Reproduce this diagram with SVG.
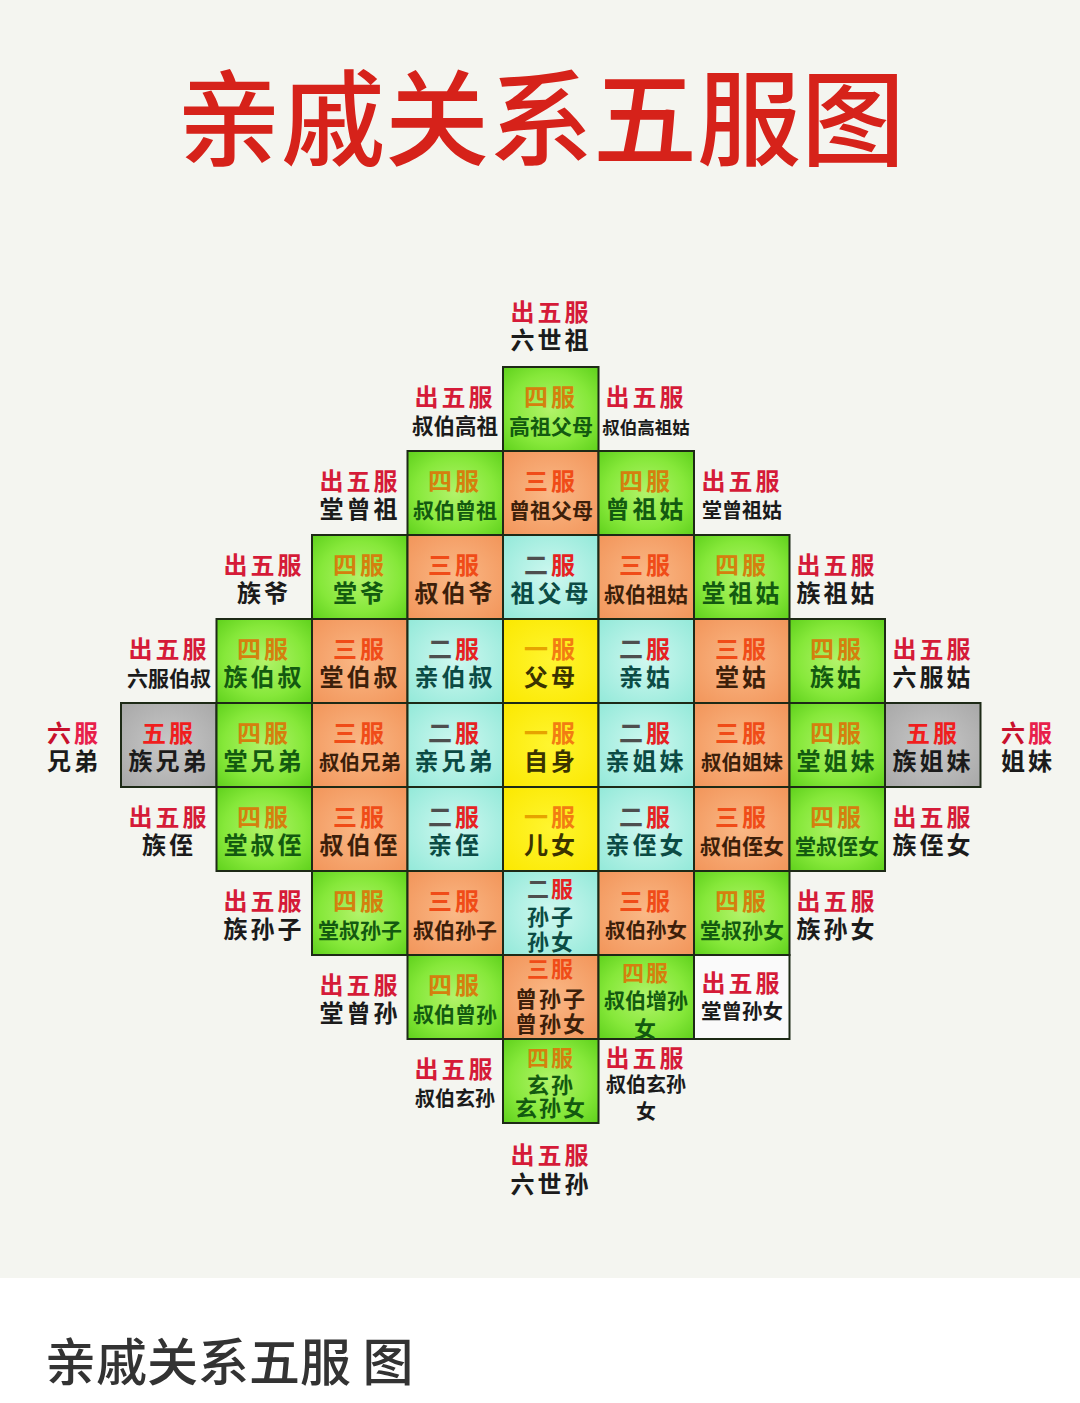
<svg xmlns="http://www.w3.org/2000/svg" width="1080" height="1403" viewBox="0 0 1080 1403">
<defs>
<radialGradient id="gG" cx="50%" cy="50%" r="70%"><stop offset="0" stop-color="#b2f36a"/><stop offset="0.6" stop-color="#86e83a"/><stop offset="1" stop-color="#5fd11c"/></radialGradient>
<radialGradient id="gO" cx="50%" cy="50%" r="70%"><stop offset="0" stop-color="#fab886"/><stop offset="1" stop-color="#f2955a"/></radialGradient>
<radialGradient id="gC" cx="50%" cy="50%" r="70%"><stop offset="0" stop-color="#cff8f0"/><stop offset="1" stop-color="#93e9d9"/></radialGradient>
<radialGradient id="gY" cx="50%" cy="50%" r="70%"><stop offset="0" stop-color="#fff530"/><stop offset="1" stop-color="#fbe800"/></radialGradient>
<radialGradient id="gK" cx="50%" cy="50%" r="70%"><stop offset="0" stop-color="#c8c8c8"/><stop offset="1" stop-color="#a8a8a8"/></radialGradient>
</defs>
<style>
.c{stroke:#1d2a16;stroke-width:2}
.cg{fill:url(#gG)}.co{fill:url(#gO)}.cc{fill:url(#gC)}.cy{fill:url(#gY)}.ck{fill:url(#gK)}.cw{fill:#fafafa}
.t{font-family:"Liberation Sans","Noto Sans CJK SC","Noto Sans CJK JP",sans-serif;font-weight:700;text-anchor:middle;font-size:24px;letter-spacing:3px}
.f4{font-size:21px;letter-spacing:0}
.f3{font-size:22px;letter-spacing:2px}
.s20{font-size:20px;letter-spacing:0}
.s205{font-size:20.5px;letter-spacing:0}
.k5{fill:#d51b38}.k4{fill:#d4800e}.k3{fill:#f04c18}.k2{fill:#4e4e4e}.kr{fill:#e62222}
.k1a{fill:#e6a300}.k1b{fill:#f27d12}.k5g{fill:#f01e1e}.k6a{fill:#c8102c}.k6b{fill:#e8204a}
.nb{fill:#1b1b1b}.ng{fill:#135a10}.no{fill:#3d1f0a}.nc{fill:#0b4b44}.ny{fill:#3a3300}
.title{font-family:"Noto Sans CJK SC","Noto Sans CJK JP",sans-serif;font-weight:500;font-size:104px;fill:#d6221a;text-anchor:middle}
.cap{font-family:"Noto Sans CJK SC","Noto Sans CJK JP",sans-serif;font-weight:500;font-size:51px;fill:#333333}
</style>
<rect x="0" y="0" width="1080" height="1403" fill="#ffffff"/>
<rect x="0" y="0" width="1080" height="1278" fill="#f4f5f0"/>
<g id="title"><text class="title" x="541" y="158">亲戚关系五服图</text></g>

<g id="nodes">
<!-- row -5 -->
<g id="n-liushizu"><text class="t"><tspan class="k5" x="551" y="321">出五服</tspan><tspan class="nb" x="551" y="349">六世祖</tspan></text></g>

<!-- row -4 -->
<g id="n-shubaigaozu"><text class="t"><tspan class="k5" x="455" y="406">出五服</tspan><tspan class="f4 nb" x="455" y="434" style="font-size:21.5px">叔伯高祖</tspan></text></g>
<g id="n-gaozufumu"><rect class="c cg" x="503" y="367" width="95.5" height="84"/><text class="t"><tspan class="k4" x="551" y="406">四服</tspan><tspan class="f4 ng" x="551" y="434">高祖父母</tspan></text></g>
<g id="n-shubaigaozugu"><text class="t"><tspan class="k5" x="646" y="406">出五服</tspan><tspan class="nb" x="646" y="434" style="font-size:17.5px;letter-spacing:0">叔伯高祖姑</tspan></text></g>

<!-- row -3 -->
<g id="n-tangcengzu"><text class="t"><tspan class="k5" x="360" y="490">出五服</tspan><tspan class="nb" x="360" y="518">堂曾祖</tspan></text></g>
<g id="n-shubaicengzu"><rect class="c cg" x="407.5" y="451" width="95.5" height="84"/><text class="t"><tspan class="k4" x="455" y="490">四服</tspan><tspan class="f4 ng" x="455" y="518">叔伯曾祖</tspan></text></g>
<g id="n-cengzufumu"><rect class="c co" x="503" y="451" width="95.5" height="84"/><text class="t"><tspan class="k3" x="551" y="490">三服</tspan><tspan class="f4 no" x="551" y="518">曾祖父母</tspan></text></g>
<g id="n-cengzugu"><rect class="c cg" x="598.5" y="451" width="95.5" height="84"/><text class="t"><tspan class="k4" x="646" y="490">四服</tspan><tspan class="ng" x="646" y="518">曾祖姑</tspan></text></g>
<g id="n-tangcengzugu"><text class="t"><tspan class="k5" x="742" y="490">出五服</tspan><tspan class="s20 nb" x="742" y="518">堂曾祖姑</tspan></text></g>

<!-- row -2 -->
<g id="n-zuye"><text class="t"><tspan class="k5" x="264" y="574">出五服</tspan><tspan class="nb" x="264" y="602">族爷</tspan></text></g>
<g id="n-tangye"><rect class="c cg" x="312" y="535" width="95.5" height="84"/><text class="t"><tspan class="k4" x="360" y="574">四服</tspan><tspan class="ng" x="360" y="602">堂爷</tspan></text></g>
<g id="n-shubaiye"><rect class="c co" x="407.5" y="535" width="95.5" height="84"/><text class="t"><tspan class="k3" x="455" y="574">三服</tspan><tspan class="no" x="455" y="602">叔伯爷</tspan></text></g>
<g id="n-zufumu"><rect class="c cc" x="503" y="535" width="95.5" height="84"/><text class="t"><tspan x="551" y="574"><tspan class="k2">二</tspan><tspan class="kr">服</tspan></tspan><tspan class="nc" x="551" y="602">祖父母</tspan></text></g>
<g id="n-shubaizugu"><rect class="c co" x="598.5" y="535" width="95.5" height="84"/><text class="t"><tspan class="k3" x="646" y="574">三服</tspan><tspan class="f4 no" x="646" y="602">叔伯祖姑</tspan></text></g>
<g id="n-tangzugu"><rect class="c cg" x="694" y="535" width="95.5" height="84"/><text class="t"><tspan class="k4" x="742" y="574">四服</tspan><tspan class="ng" x="742" y="602">堂祖姑</tspan></text></g>
<g id="n-zuzugu"><text class="t"><tspan class="k5" x="837" y="574">出五服</tspan><tspan class="nb" x="837" y="602">族祖姑</tspan></text></g>

<!-- row -1 -->
<g id="n-liufubaishu"><text class="t"><tspan class="k5" x="169" y="658">出五服</tspan><tspan class="f4 nb" x="169" y="686">六服伯叔</tspan></text></g>
<g id="n-zubaishu"><rect class="c cg" x="216.5" y="619" width="95.5" height="84"/><text class="t"><tspan class="k4" x="264" y="658">四服</tspan><tspan class="ng" x="264" y="686">族伯叔</tspan></text></g>
<g id="n-tangbaishu"><rect class="c co" x="312" y="619" width="95.5" height="84"/><text class="t"><tspan class="k3" x="360" y="658">三服</tspan><tspan class="no" x="360" y="686">堂伯叔</tspan></text></g>
<g id="n-qinbaishu"><rect class="c cc" x="407.5" y="619" width="95.5" height="84"/><text class="t"><tspan x="455" y="658"><tspan class="k2">二</tspan><tspan class="kr">服</tspan></tspan><tspan class="nc" x="455" y="686">亲伯叔</tspan></text></g>
<g id="n-fumu"><rect class="c cy" x="503" y="619" width="95.5" height="84"/><text class="t"><tspan x="551" y="658"><tspan class="k1a">一</tspan><tspan class="k1b">服</tspan></tspan><tspan class="ny" x="551" y="686">父母</tspan></text></g>
<g id="n-qingu"><rect class="c cc" x="598.5" y="619" width="95.5" height="84"/><text class="t"><tspan x="646" y="658"><tspan class="k2">二</tspan><tspan class="kr">服</tspan></tspan><tspan class="nc" x="646" y="686">亲姑</tspan></text></g>
<g id="n-tanggu"><rect class="c co" x="694" y="619" width="95.5" height="84"/><text class="t"><tspan class="k3" x="742" y="658">三服</tspan><tspan class="no" x="742" y="686">堂姑</tspan></text></g>
<g id="n-zugu"><rect class="c cg" x="789.5" y="619" width="95.5" height="84"/><text class="t"><tspan class="k4" x="837" y="658">四服</tspan><tspan class="ng" x="837" y="686">族姑</tspan></text></g>
<g id="n-liufugu"><text class="t"><tspan class="k5" x="933" y="658">出五服</tspan><tspan class="nb" x="933" y="686">六服姑</tspan></text></g>

<!-- row 0 -->
<g id="n-xiongdi"><text class="t"><tspan x="74" y="742"><tspan class="k6a">六</tspan><tspan class="k6b">服</tspan></tspan><tspan class="nb" x="74" y="770">兄弟</tspan></text></g>
<g id="n-zuxiongdi"><rect class="c ck" x="121" y="703" width="95.5" height="84"/><text class="t"><tspan class="k5g" x="169" y="742">五服</tspan><tspan class="nb" x="169" y="770">族兄弟</tspan></text></g>
<g id="n-tangxiongdi"><rect class="c cg" x="216.5" y="703" width="95.5" height="84"/><text class="t"><tspan class="k4" x="264" y="742">四服</tspan><tspan class="ng" x="264" y="770">堂兄弟</tspan></text></g>
<g id="n-shubaixiongdi"><rect class="c co" x="312" y="703" width="95.5" height="84"/><text class="t"><tspan class="k3" x="360" y="742">三服</tspan><tspan class="s205 no" x="360" y="770">叔伯兄弟</tspan></text></g>
<g id="n-qinxiongdi"><rect class="c cc" x="407.5" y="703" width="95.5" height="84"/><text class="t"><tspan x="455" y="742"><tspan class="k2">二</tspan><tspan class="kr">服</tspan></tspan><tspan class="nc" x="455" y="770">亲兄弟</tspan></text></g>
<g id="n-zishen"><rect class="c cy" x="503" y="703" width="95.5" height="84"/><text class="t"><tspan x="551" y="742"><tspan class="k1a">一</tspan><tspan class="k1b">服</tspan></tspan><tspan class="ny" x="551" y="770">自身</tspan></text></g>
<g id="n-qinjiemei"><rect class="c cc" x="598.5" y="703" width="95.5" height="84"/><text class="t"><tspan x="646" y="742"><tspan class="k2">二</tspan><tspan class="kr">服</tspan></tspan><tspan class="nc" x="646" y="770">亲姐妹</tspan></text></g>
<g id="n-shubaijiemei"><rect class="c co" x="694" y="703" width="95.5" height="84"/><text class="t"><tspan class="k3" x="742" y="742">三服</tspan><tspan class="s205 no" x="742" y="770">叔伯姐妹</tspan></text></g>
<g id="n-tangjiemei"><rect class="c cg" x="789.5" y="703" width="95.5" height="84"/><text class="t"><tspan class="k4" x="837" y="742">四服</tspan><tspan class="ng" x="837" y="770">堂姐妹</tspan></text></g>
<g id="n-zujiemei"><rect class="c ck" x="885" y="703" width="95.5" height="84"/><text class="t"><tspan class="k5g" x="933" y="742">五服</tspan><tspan class="nb" x="933" y="770">族姐妹</tspan></text></g>
<g id="n-jiemei"><text class="t"><tspan x="1028" y="742"><tspan class="k6a">六</tspan><tspan class="k6b">服</tspan></tspan><tspan class="nb" x="1028" y="770">姐妹</tspan></text></g>

<!-- row 1 -->
<g id="n-zuzhi"><text class="t"><tspan class="k5" x="169" y="826">出五服</tspan><tspan class="nb" x="169" y="854">族侄</tspan></text></g>
<g id="n-tangshuzhi"><rect class="c cg" x="216.5" y="787" width="95.5" height="84"/><text class="t"><tspan class="k4" x="264" y="826">四服</tspan><tspan class="ng" x="264" y="854">堂叔侄</tspan></text></g>
<g id="n-shubaizhi"><rect class="c co" x="312" y="787" width="95.5" height="84"/><text class="t"><tspan class="k3" x="360" y="826">三服</tspan><tspan class="no" x="360" y="854">叔伯侄</tspan></text></g>
<g id="n-qinzhi"><rect class="c cc" x="407.5" y="787" width="95.5" height="84"/><text class="t"><tspan x="455" y="826"><tspan class="k2">二</tspan><tspan class="kr">服</tspan></tspan><tspan class="nc" x="455" y="854">亲侄</tspan></text></g>
<g id="n-ernv"><rect class="c cy" x="503" y="787" width="95.5" height="84"/><text class="t"><tspan x="551" y="826"><tspan class="k1a">一</tspan><tspan class="k1b">服</tspan></tspan><tspan class="ny" x="551" y="854">儿女</tspan></text></g>
<g id="n-qinzhinv"><rect class="c cc" x="598.5" y="787" width="95.5" height="84"/><text class="t"><tspan x="646" y="826"><tspan class="k2">二</tspan><tspan class="kr">服</tspan></tspan><tspan class="nc" x="646" y="854">亲侄女</tspan></text></g>
<g id="n-shubaizhinv"><rect class="c co" x="694" y="787" width="95.5" height="84"/><text class="t"><tspan class="k3" x="742" y="826">三服</tspan><tspan class="f4 no" x="742" y="854">叔伯侄女</tspan></text></g>
<g id="n-tangshuzhinv"><rect class="c cg" x="789.5" y="787" width="95.5" height="84"/><text class="t"><tspan class="k4" x="837" y="826">四服</tspan><tspan class="f4 ng" x="837" y="854">堂叔侄女</tspan></text></g>
<g id="n-zuzhinv"><text class="t"><tspan class="k5" x="933" y="826">出五服</tspan><tspan class="nb" x="933" y="854">族侄女</tspan></text></g>

<!-- row 2 -->
<g id="n-zusunzi"><text class="t"><tspan class="k5" x="264" y="910">出五服</tspan><tspan class="nb" x="264" y="938">族孙子</tspan></text></g>
<g id="n-tangshusunzi"><rect class="c cg" x="312" y="871" width="95.5" height="84"/><text class="t"><tspan class="k4" x="360" y="910">四服</tspan><tspan class="f4 ng" x="360" y="938">堂叔孙子</tspan></text></g>
<g id="n-shubaisunzi"><rect class="c co" x="407.5" y="871" width="95.5" height="84"/><text class="t"><tspan class="k3" x="455" y="910">三服</tspan><tspan class="f4 no" x="455" y="938">叔伯孙子</tspan></text></g>
<g id="n-sunzisunnv"><rect class="c cc" x="503" y="871" width="95.5" height="84"/><text class="t f3"><tspan x="551" y="897"><tspan class="k2">二</tspan><tspan class="kr">服</tspan></tspan><tspan class="nc" x="551" y="925">孙子</tspan><tspan class="nc" x="551" y="950">孙女</tspan></text></g>
<g id="n-shubaisunnv"><rect class="c co" x="598.5" y="871" width="95.5" height="84"/><text class="t"><tspan class="k3" x="646" y="910">三服</tspan><tspan class="s205 no" x="646" y="938">叔伯孙女</tspan></text></g>
<g id="n-tangshusunnv"><rect class="c cg" x="694" y="871" width="95.5" height="84"/><text class="t"><tspan class="k4" x="742" y="910">四服</tspan><tspan class="f4 ng" x="742" y="938">堂叔孙女</tspan></text></g>
<g id="n-zusunnv"><text class="t"><tspan class="k5" x="837" y="910">出五服</tspan><tspan class="nb" x="837" y="938">族孙女</tspan></text></g>

<!-- row 3 -->
<g id="n-tangcengsun"><text class="t"><tspan class="k5" x="360" y="994">出五服</tspan><tspan class="nb" x="360" y="1022">堂曾孙</tspan></text></g>
<g id="n-shubaicengsun"><rect class="c cg" x="407.5" y="955" width="95.5" height="84"/><text class="t"><tspan class="k4" x="455" y="994">四服</tspan><tspan class="f4 ng" x="455" y="1022">叔伯曾孙</tspan></text></g>
<g id="n-cengsun"><rect class="c co" x="503" y="955" width="95.5" height="84"/><text class="t f3"><tspan class="k3" x="551" y="977">三服</tspan><tspan class="no" x="551" y="1007">曾孙子</tspan><tspan class="no" x="551" y="1032">曾孙女</tspan></text></g>
<g id="n-shubaizengsunnv"><rect class="c cg" x="598.5" y="955" width="95.5" height="84"/><text class="t f3"><tspan class="k4" x="646" y="981">四服</tspan><tspan class="f4 ng" x="646" y="1008">叔伯增孙</tspan><tspan class="ng" x="646" y="1037">女</tspan></text></g>
<g id="n-tangcengsunnv"><rect class="c cw" x="694" y="955" width="95.5" height="84"/><text class="t"><tspan class="k5" x="742" y="992">出五服</tspan><tspan class="s205 nb" x="742" y="1019">堂曾孙女</tspan></text></g>

<!-- row 4 -->
<g id="n-shubaixuansun"><text class="t"><tspan class="k5" x="455" y="1078">出五服</tspan><tspan class="s20 nb" x="455" y="1106">叔伯玄孙</tspan></text></g>
<g id="n-xuansun"><rect class="c cg" x="503" y="1039" width="95.5" height="84"/><text class="t f3"><tspan class="k4" x="551" y="1066">四服</tspan><tspan class="ng" x="551" y="1093">玄孙</tspan><tspan class="ng" x="551" y="1116">玄孙女</tspan></text></g>
<g id="n-shubaixuansunnv"><text class="t"><tspan class="k5" x="646" y="1067">出五服</tspan><tspan class="s20 nb" x="646" y="1092">叔伯玄孙</tspan><tspan class="s20 nb" x="646" y="1119">女</tspan></text></g>

<!-- row 5 -->
<g id="n-liushisun"><text class="t"><tspan class="k5" x="551" y="1164">出五服</tspan><tspan class="nb" x="551" y="1193">六世孙</tspan></text></g>
</g>

<g id="caption"><text class="cap" x="45" y="1381">亲戚关系五服 图</text></g>
</svg>
